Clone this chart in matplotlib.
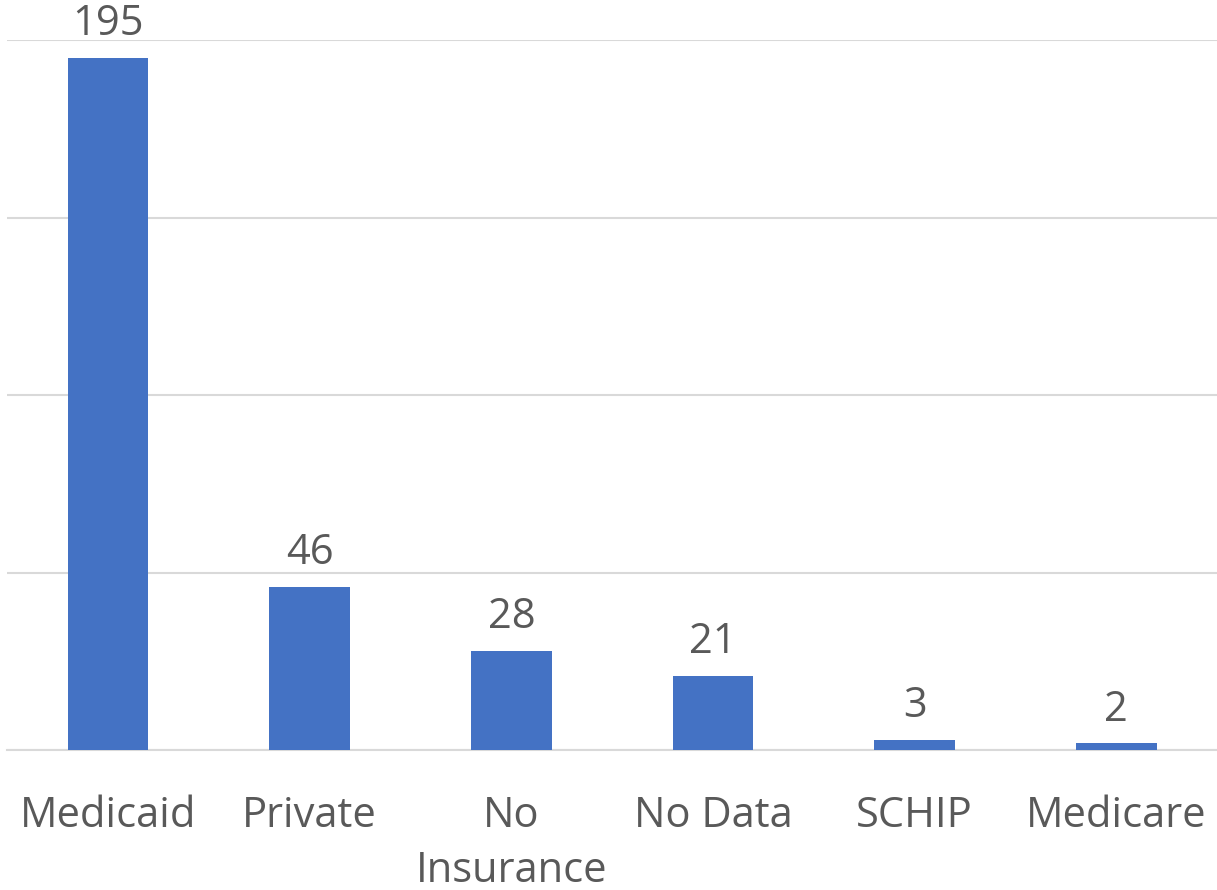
import matplotlib
matplotlib.use("Agg")
import matplotlib.pyplot as plt
import numpy as np

# Chart data
categories = ["Medicaid", "Private", "No\nInsurance", "No Data", "SCHIP", "Medicare"]
counts = [195, 46, 28, 21, 3, 2]

BAR_COLOR = "#4472C4"
TEXT_COLOR = "#595959"
GRID_COLOR = "#D9D9D9"

plt.rcParams["font.family"] = ["Open Sans", "DejaVu Sans"]

fig = plt.figure(figsize=(12.17, 8.9), dpi=100)
ax = fig.add_axes([0.006, 0.157, 0.994, 0.798])

x = np.arange(len(categories))
bars = ax.bar(x, counts, width=0.4, color=BAR_COLOR, zorder=3)

# Value labels above bars
for rect, val in zip(bars, counts):
    ax.annotate(str(val), (rect.get_x() + rect.get_width() / 2, rect.get_height()),
                xytext=(0, 9), textcoords="offset points",
                ha="center", va="bottom", fontsize=30, color=TEXT_COLOR)

ax.set_xlim(-0.5, len(categories) - 0.5)
ax.set_ylim(0, 200)
ax.set_yticks([0, 50, 100, 150, 200])
ax.set_yticklabels([])
ax.tick_params(axis="y", length=0)
ax.grid(axis="y", color=GRID_COLOR, linewidth=1.5, zorder=0)

ax.set_xticks(x)
ax.set_xticklabels(categories, fontsize=30, color=TEXT_COLOR, linespacing=1.4)
ax.tick_params(axis="x", length=0, pad=32)

for side in ["top", "right", "left"]:
    ax.spines[side].set_visible(False)
ax.spines["bottom"].set_color(GRID_COLOR)
ax.spines["bottom"].set_linewidth(1.5)

fig.savefig("out.png", dpi=100)
